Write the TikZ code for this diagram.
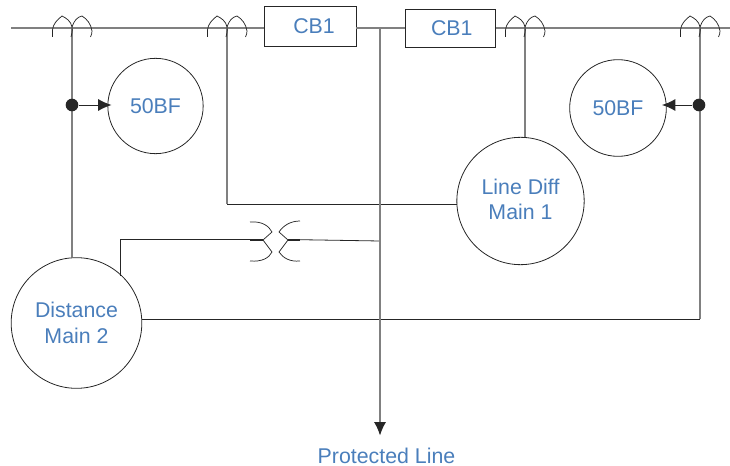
\documentclass[tikz,border=0pt]{standalone}
\usepackage{fontspec}
\setmainfont{Liberation Sans}
\definecolor{lbl}{HTML}{4A7EBB}
\definecolor{wire}{HTML}{808080}
\definecolor{ink}{HTML}{262626}
\usetikzlibrary{arrows.meta}
\tikzset{
  x=0.75pt,y=-0.75pt,
  relay/.style={circle,draw=ink,line width=0.6pt,inner sep=0pt,align=center,text=lbl,font=\fontsize{16}{19}\selectfont},
  breaker/.style={rectangle,draw=ink,line width=0.7pt,inner sep=0pt,text=lbl,font=\fontsize{16}{19}\selectfont},
  bus/.style={draw=wire,line width=1.3pt},
  branch/.style={draw=wire,line width=0.9pt},
  thin wire/.style={draw=ink,line width=0.6pt},
  coil/.style={draw=ink,line width=0.55pt},
  tap/.style={circle,fill=ink,inner sep=0pt,minimum size=9.5pt},
  trip/.style={draw=ink,line width=0.7pt,-{Latex[length=10pt,width=9pt]}},
  ctsym/.pic={
    \draw[coil] (-19.5,9) -- (-19.5,2) .. controls (-19,-4) and (-15,-8) .. (-10,-12) .. controls (-6,-10) and (-1,-7) .. (0,-1) .. controls (0.5,3) and (0,6) .. (-1,9);
    \draw[coil] (0,-1) .. controls (2,-7) and (5,-11) .. (10,-12) .. controls (15,-9) and (19,-4) .. (20,3) .. controls (20,5) and (19.5,7) .. (18.5,9);
  }
}
\begin{document}
\begin{tikzpicture}
\useasboundingbox (0,0) rectangle (730,466);
% relays and breakers
\node[relay,minimum size=71.5pt] (bfl) at (155.5,106) {50BF};
\node[relay,minimum size=72.5pt] (bfr) at (618,108) {50BF};
\node[relay,minimum size=95.5pt] (ld) at (520.5,201) {Line Diff\\Main 1\rule[-3pt]{0pt}{0pt}};
\node[relay,minimum size=98pt] (dist) at (76.5,323) {Distance\\Main 2};
\node[breaker,minimum width=69pt,minimum height=30pt] (cba) at (310,26) {\hspace{6pt}CB1};
\node[breaker,minimum width=68pt,minimum height=29pt] (cbb) at (450.5,28.5) {\hspace{2pt}CB1};
\node[text=lbl,inner sep=0pt,font=\fontsize{16}{19}\selectfont] (pl) at (386.5,455.5) {Protected Line};
% coordinates
\coordinate (busw) at (11,28);
\coordinate (buse) at (730,28);
\coordinate (ct1) at (72,28);
\coordinate (ct2) at (227,28);
\coordinate (ct3) at (525,28);
\coordinate (ct4) at (700,28);
\coordinate (tee) at (380,28);
\coordinate (lineend) at (380,435.5);
\coordinate (tl) at (72,105);
\coordinate (tr) at (699,105);
\coordinate (tipl) at (111.5,105);
\coordinate (tipr) at (662,105);
\coordinate (dl) at (227,204);
\coordinate (ldw) at (457,204);
\coordinate (dc) at (700,319);
\coordinate (dce) at (142,319);
\coordinate (vt0) at (120,276);
\coordinate (vt1) at (120,239);
\coordinate (vtl) at (263,239);
\coordinate (vtr) at (288,239.5);
\coordinate (vte) at (380,241);
% bus
\draw[bus] (busw) -- (cba.west |- busw);
\draw[bus] (cba.east |- busw) -- (cbb.west |- busw);
\draw[bus] (cbb.east |- busw) -- (buse);
% branches
\draw[branch] (ct1) -- (ct1 |- dist.north);
\draw[branch] (ct2) -- (dl);
\draw[thin wire] (dl) -- (ldw);
\draw[branch] (ct3) -- (ct3 |- ld.north);
\draw[branch] (ct4) -- (dc);
\draw[thin wire] (dc) -- (dce);
\draw[thin wire] (vt0) -- (vt1) -- (vtl);
\draw[thin wire] (vtr) -- (vte);
\draw[draw=wire,line width=1pt,-{Latex[length=10pt,width=9pt,color=ink]}] (tee) -- (lineend);
% current transformers
\pic at (ct1) {ctsym};
\pic at (ct2) {ctsym};
\pic at (ct3) {ctsym};
\pic at (ct4) {ctsym};
% voltage transformer
\draw[coil] (250,222) .. controls (262,221) and (269,226) .. (272,232) -- (263,240) -- (272,252) .. controls (269,258) and (262,262) .. (250,261);
\draw[coil] (300,221) .. controls (290,221) and (283,226) .. (279,232) -- (288,240) -- (279,252) .. controls (283,258) and (290,262) .. (300,261);
\draw[draw=ink,line width=1.4pt] (250,240) -- (263,240);
\draw[draw=ink,line width=1.4pt] (288,240) -- (300,240);
% breaker failure taps
\node[tap] (dotl) at (tl) {};
\node[tap] (dotr) at (tr) {};
\draw[trip] (dotl) -- (tipl);
\draw[trip] (dotr) -- (tipr);
\end{tikzpicture}
\end{document}
